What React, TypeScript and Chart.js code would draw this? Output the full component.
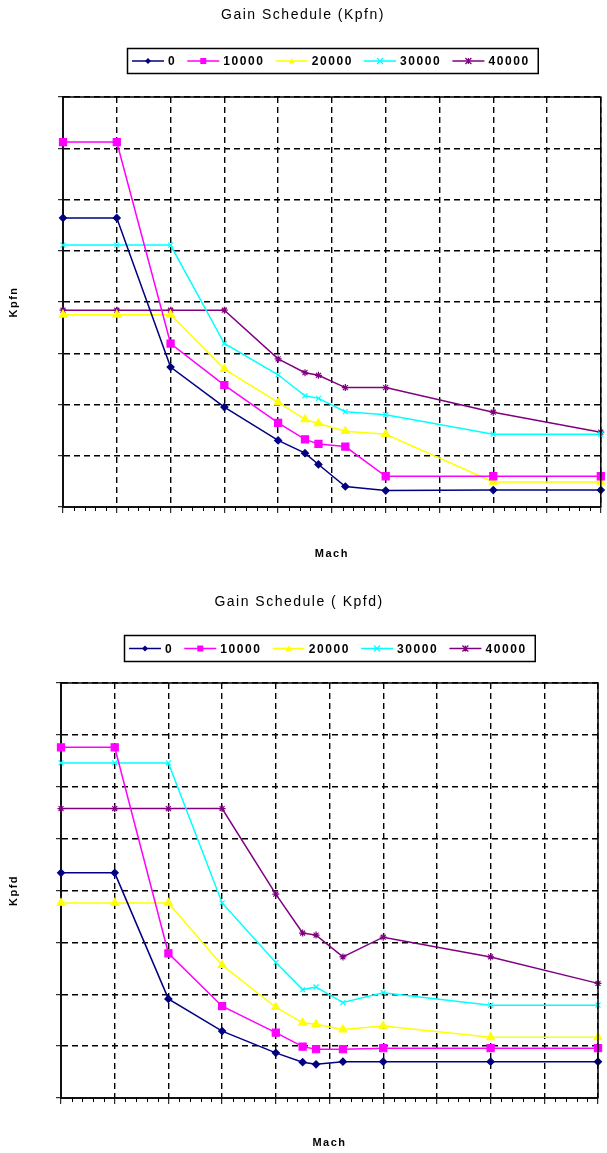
import React, { useEffect, useRef } from 'react';
import { Chart, registerables } from 'chart.js';

Chart.register(...registerables);

// ---------- data ----------
const MACH = [0, 0.1, 0.2, 0.3, 0.4, 0.45, 0.475, 0.525, 0.6, 0.8, 1.0];
const ALTITUDES = ['0', '10000', '20000', '30000', '40000'];

const KPFN_0 = [5.64, 5.64, 2.73, 1.95, 1.3, 1.05, 0.83, 0.4, 0.32, 0.33, 0.33];
const KPFN_10000 = [7.12, 7.12, 3.19, 2.38, 1.64, 1.32, 1.23, 1.18, 0.6, 0.6, 0.6];
const KPFN_20000 = [3.75, 3.75, 3.75, 2.69, 2.04, 1.71, 1.63, 1.48, 1.42, 0.49, 0.49];
const KPFN_30000 = [5.11, 5.11, 5.11, 3.19, 2.58, 2.17, 2.12, 1.86, 1.8, 1.42, 1.42];
const KPFN_40000 = [3.84, 3.84, 3.84, 3.84, 2.89, 2.62, 2.57, 2.33, 2.33, 1.85, 1.46];

const KPFD_0 = [4.34, 4.34, 1.91, 1.29, 0.87, 0.69, 0.65, 0.7, 0.7, 0.7, 0.7];
const KPFD_10000 = [6.76, 6.76, 2.79, 1.77, 1.26, 0.99, 0.94, 0.94, 0.96, 0.96, 0.96];
const KPFD_20000 = [3.76, 3.76, 3.76, 2.56, 1.75, 1.45, 1.42, 1.32, 1.39, 1.17, 1.17];
const KPFD_30000 = [6.46, 6.46, 6.46, 3.76, 2.61, 2.09, 2.14, 1.84, 2.03, 1.79, 1.79];
const KPFD_40000 = [5.58, 5.58, 5.58, 5.58, 3.93, 3.18, 3.14, 2.72, 3.1, 2.72, 2.21];

const X_MIN = 0;
const X_MAX = 1;
const X_STEP = 0.1;
const X_MINOR = 0.02;
const Y_MIN = 0;
const Y_MAX = 8;
const Y_STEP = 1;

// ---------- styles ----------
const COLORS = ['#000080', '#FF00FF', '#FFFF00', '#00FFFF', '#800080'];
const POINT_STYLES = ['rectRot', 'rect', 'triangle', 'crossRot', 'star'];
const POINT_RADII = [3.5, 5, 4.5, 3.5, 3.5];
const FONT = '"Liberation Sans", Arial, sans-serif';

function drawMarker(ctx: CanvasRenderingContext2D, style: string, x: number, y: number, r: number, color: string) {
  ctx.save();
  ctx.fillStyle = color;
  ctx.strokeStyle = color;
  ctx.lineWidth = 1.2;
  ctx.beginPath();
  if (style === 'rectRot') {
    ctx.moveTo(x, y - r);
    ctx.lineTo(x + r, y);
    ctx.lineTo(x, y + r);
    ctx.lineTo(x - r, y);
    ctx.closePath();
    ctx.fill();
  } else if (style === 'rect') {
    ctx.rect(x - r, y - r, 2 * r, 2 * r);
    ctx.fill();
  } else if (style === 'triangle') {
    ctx.moveTo(x, y - r);
    ctx.lineTo(x + r, y + r * 0.8);
    ctx.lineTo(x - r, y + r * 0.8);
    ctx.closePath();
    ctx.fill();
  } else if (style === 'crossRot') {
    ctx.moveTo(x - r, y - r);
    ctx.lineTo(x + r, y + r);
    ctx.moveTo(x + r, y - r);
    ctx.lineTo(x - r, y + r);
    ctx.stroke();
  } else {
    ctx.moveTo(x - r, y - r);
    ctx.lineTo(x + r, y + r);
    ctx.moveTo(x + r, y - r);
    ctx.lineTo(x - r, y + r);
    ctx.moveTo(x, y - r);
    ctx.lineTo(x, y + r);
    ctx.stroke();
  }
  ctx.restore();
}

const spacingPlugin = {
  id: 'spacing',
  beforeDraw(chart: any) {
    (chart.ctx as any).letterSpacing = '1.5px';
  },
};

const framePlugin = {
  id: 'frame',
  afterDraw(chart: any) {
    const { ctx, chartArea } = chart;
    const xs = chart.scales.x;
    ctx.save();
    (ctx as any).letterSpacing = '0px';
    ctx.strokeStyle = '#000';
    ctx.lineWidth = 1.5;
    ctx.beginPath();
    ctx.moveTo(chartArea.left, chartArea.top);
    ctx.lineTo(chartArea.right, chartArea.top);
    ctx.lineTo(chartArea.right, chartArea.bottom);
    ctx.stroke();
    // minor ticks on the x axis
    ctx.lineWidth = 1;
    ctx.beginPath();
    const n = Math.round((X_MAX - X_MIN) / X_MINOR);
    for (let i = 0; i <= n; i++) {
      if (i % 5 === 0) continue;
      const px = Math.round(xs.getPixelForValue(X_MIN + i * X_MINOR)) + 0.5;
      ctx.moveTo(px, chartArea.bottom);
      ctx.lineTo(px, chartArea.bottom + 4);
    }
    ctx.stroke();
    ctx.restore();
  },
};

const boxLegendPlugin = {
  id: 'boxLegend',
  afterDraw(chart: any, _args: any, opts: any) {
    const { ctx, chartArea } = chart;
    const ds = chart.data.datasets;
    ctx.save();
    ctx.font = `bold 12px ${FONT}`;
    (ctx as any).letterSpacing = '1.6px';
    const lineLen = 32;
    const gapText = 4;
    const gapEntry = 11;
    const padL = 5;
    const padR = 8;
    const widths = ds.map((d: any) => ctx.measureText(d.label).width);
    let total = padL + padR;
    widths.forEach((w: number, i: number) => {
      total += lineLen + gapText + w + (i < widths.length - 1 ? gapEntry : 0);
    });
    const cx = (chartArea.left + chartArea.right) / 2;
    const left = Math.round(cx - total / 2);
    const top = opts.top;
    const h = opts.height;
    ctx.strokeStyle = '#000';
    ctx.lineWidth = 1.5;
    ctx.strokeRect(left + 0.5, top + 0.5, total, h);
    const cy = top + h / 2 + 0.5;
    let x = left + padL;
    ds.forEach((d: any, i: number) => {
      ctx.strokeStyle = d.borderColor;
      ctx.lineWidth = 1.5;
      ctx.beginPath();
      ctx.moveTo(x, cy);
      ctx.lineTo(x + lineLen, cy);
      ctx.stroke();
      drawMarker(ctx, d.pointStyle, x + lineLen / 2, cy, 3, d.borderColor);
      x += lineLen + gapText;
      ctx.fillStyle = '#000';
      ctx.textBaseline = 'middle';
      ctx.textAlign = 'left';
      ctx.fillText(d.label, x, cy + 1);
      x += widths[i] + gapEntry;
    });
    ctx.restore();
  },
};

type Spec = {
  title: string;
  yTitle: string;
  series: number[][];
  height: number;
  padRight: number;
  yWidth: number;
  xHeight: number;
  titlePadTop: number;
  titlePadBottom: number;
  xTitlePadBottom: number;
  legendTop: number;
  legendHeight: number;
};

function makeConfig(spec: Spec): any {
  return {
    type: 'line',
    data: {
      datasets: spec.series.map((vals, i) => ({
        label: ALTITUDES[i],
        data: MACH.map((m, j) => ({ x: m, y: vals[j] })),
        borderColor: COLORS[i],
        backgroundColor: COLORS[i],
        pointStyle: POINT_STYLES[i],
        pointRadius: POINT_RADII[i],
        pointBorderWidth: 1.2,
        pointBackgroundColor: COLORS[i],
        pointBorderColor: COLORS[i],
        borderWidth: 1.5,
        tension: 0,
        clip: false,
      })),
    },
    options: {
      responsive: false,
      animation: false,
      events: [],
      layout: { padding: { left: 0, right: spec.padRight, top: 0, bottom: 0 } },
      plugins: {
        legend: { display: false },
        tooltip: { enabled: false },
        title: {
          display: true,
          text: spec.title,
          color: '#000',
          font: { family: FONT, size: 14, weight: 'normal' },
          padding: { top: spec.titlePadTop, bottom: spec.titlePadBottom },
        },
        boxLegend: { top: spec.legendTop, height: spec.legendHeight },
      },
      scales: {
        x: {
          type: 'linear',
          min: X_MIN,
          max: X_MAX,
          ticks: { display: false, stepSize: X_STEP },
          grid: {
            color: '#000',
            lineWidth: 1.4,
            drawTicks: true,
            tickLength: 6,
            tickColor: '#000',
            tickWidth: 1,
            tickBorderDash: [],
          },
          border: { display: true, color: '#111', width: 2, dash: [6, 4] },
          title: {
            display: true,
            text: 'Mach',
            color: '#000',
            font: { family: FONT, size: 11, weight: 'bold' },
            padding: { top: 0, bottom: spec.xTitlePadBottom },
          },
          afterFit: (s: any) => {
            s.height = spec.xHeight;
          },
        },
        y: {
          type: 'linear',
          min: Y_MIN,
          max: Y_MAX,
          ticks: { display: false, stepSize: Y_STEP },
          grid: {
            color: '#000',
            lineWidth: 1.4,
            drawTicks: true,
            tickLength: 5,
            tickColor: '#000',
            tickWidth: 1,
            tickBorderDash: [],
          },
          border: { display: true, color: '#111', width: 2, dash: [6, 4] },
          title: {
            display: true,
            text: spec.yTitle,
            color: '#000',
            font: { family: FONT, size: 11, weight: 'bold' },
            padding: { top: 7.4, bottom: 0 },
          },
          afterFit: (s: any) => {
            s.width = spec.yWidth;
          },
        },
      },
    },
    plugins: [spacingPlugin, framePlugin, boxLegendPlugin],
  };
}

const SPEC_KPFN: Spec = {
  title: 'Gain Schedule (Kpfn)',
  yTitle: 'Kpfn',
  series: [KPFN_0, KPFN_10000, KPFN_20000, KPFN_30000, KPFN_40000],
  height: 575,
  padRight: 1,
  yWidth: 63,
  xHeight: 68,
  titlePadTop: 6.6,
  titlePadBottom: 73.6,
  xTitlePadBottom: 14.4,
  legendTop: 48,
  legendHeight: 25,
};

const SPEC_KPFD: Spec = {
  title: 'Gain Schedule ( Kpfd)',
  yTitle: 'Kpfd',
  series: [KPFD_0, KPFD_10000, KPFD_20000, KPFD_30000, KPFD_40000],
  height: 578,
  padRight: 9,
  yWidth: 61,
  xHeight: 55,
  titlePadTop: 18.6,
  titlePadBottom: 72.6,
  xTitlePadBottom: 3.4,
  legendTop: 60,
  legendHeight: 26,
};

function GainChart({ spec }: { spec: Spec }) {
  const ref = useRef<HTMLCanvasElement | null>(null);
  useEffect(() => {
    if (!ref.current) return;
    const chart = new Chart(ref.current, makeConfig(spec));
    return () => chart.destroy();
  }, [spec]);
  return (
    <canvas
      ref={ref}
      width={607}
      height={spec.height}
      style={{ display: 'block', width: 607, height: spec.height }}
    />
  );
}

export default function App() {
  useEffect(() => {
    document.body.style.margin = '0';
  }, []);
  return (
    <div style={{ position: 'absolute', left: 0, top: 0, width: 607, height: 1153, background: '#fff' }}>
      <GainChart spec={SPEC_KPFN} />
      <GainChart spec={SPEC_KPFD} />
    </div>
  );
}
